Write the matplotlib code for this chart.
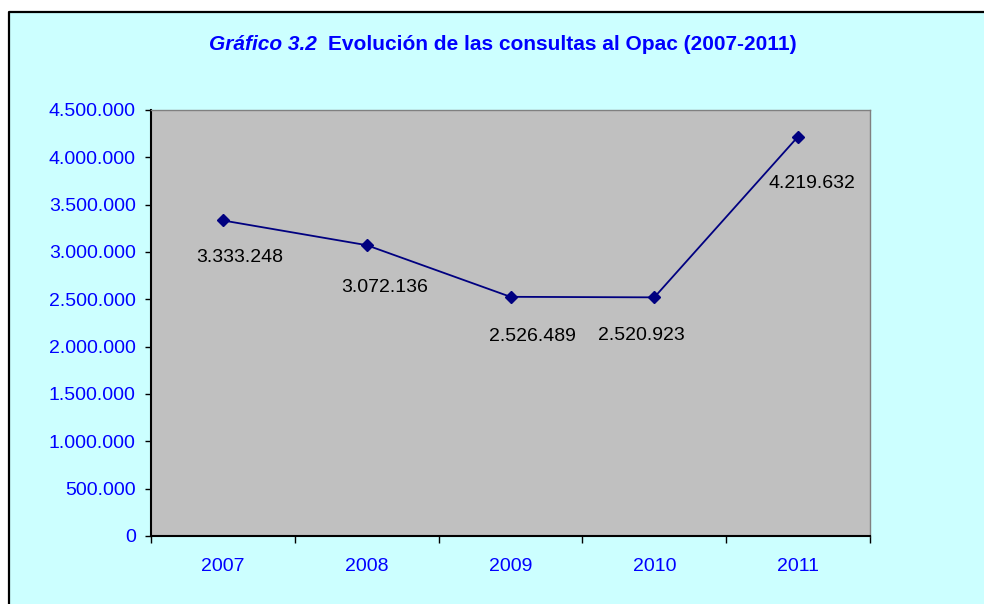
import matplotlib.pyplot as plt
from matplotlib.patches import Rectangle
from matplotlib.lines import Line2D
from matplotlib.ticker import FuncFormatter

# Datos del gráfico
anios = ['2007', '2008', '2009', '2010', '2011']
consultas = [3333248, 3072136, 2526489, 2520923, 4219632]
etiquetas = ['3.333.248', '3.072.136', '2.526.489', '2.520.923', '4.219.632']
yticks = [0, 500000, 1000000, 1500000, 2000000, 2500000, 3000000, 3500000, 4000000, 4500000]

# desplazamiento de las etiquetas (px)
offsets = [(17, -37), (18, -42), (22, -40), (-13, -38), (14, -47)]

plt.rcParams['font.family'] = ['Liberation Sans', 'DejaVu Sans']

fig = plt.figure(figsize=(9.84, 6.04), dpi=100, facecolor='white')

# fondo del gráfico con borde (solo izquierda y arriba)
x0 = 9 / 984
y0 = 1 - 12 / 604
fig.patches.append(Rectangle((x0, -0.05), 1.1, y0 + 0.05, transform=fig.transFigure,
                             facecolor='#CCFFFF', edgecolor='none', zorder=-10))
fig.lines.append(Line2D([x0, x0, 1.05], [-0.05, y0, y0], transform=fig.transFigure,
                        color='black', linewidth=1.6, zorder=-9))

ax = fig.add_axes([151 / 984, 68 / 604, 719 / 984, 426 / 604])
ax.set_facecolor('#C0C0C0')

x = list(range(len(anios)))
ax.plot(x, consultas, color='#000080', linewidth=1.3, marker='D', markersize=6.5, zorder=3)

for i, et in enumerate(etiquetas):
    dx, dy = offsets[i]
    ax.annotate(et, (x[i], consultas[i]), xytext=(dx * 0.72, dy * 0.72), textcoords='offset points',
                ha='center', va='center', fontsize=14, color='black')

ax.set_xlim(-0.5, len(anios) - 0.5)
ax.set_ylim(0, 4500000)

ax.set_yticks(yticks)
ax.yaxis.set_major_formatter(FuncFormatter(lambda v, p: f'{int(v):,}'.replace(',', '.')))
ax.tick_params(axis='y', direction='out', length=4, width=1, color='black',
               labelcolor='#0000FF', labelsize=14, pad=7)

ax.set_xticks([i - 0.5 for i in range(len(anios) + 1)])
ax.set_xticklabels([])
ax.set_xticks(x, minor=True)
ax.set_xticklabels(anios, minor=True)
ax.tick_params(axis='x', which='major', direction='out', length=5, width=1, color='black')
ax.tick_params(axis='x', which='minor', length=0, labelcolor='#0000FF', labelsize=14, pad=16)

for lado in ['left', 'bottom']:
    ax.spines[lado].set_color('black')
    ax.spines[lado].set_linewidth(1.5)
for lado in ['top', 'right']:
    ax.spines[lado].set_color('#808080')
    ax.spines[lado].set_linewidth(1)

# título
fig.text(317 / 984, 1 - 44 / 604, 'Gráfico 3.2', ha='right', va='center', color='#0000FF',
         fontsize=15, fontweight='bold', fontstyle='italic')
fig.text(328 / 984, 1 - 44 / 604, 'Evolución de las consultas al Opac (2007-2011)', ha='left',
         va='center', color='#0000FF', fontsize=15, fontweight='bold')

plt.savefig('out.png', dpi=100, facecolor=fig.get_facecolor())
